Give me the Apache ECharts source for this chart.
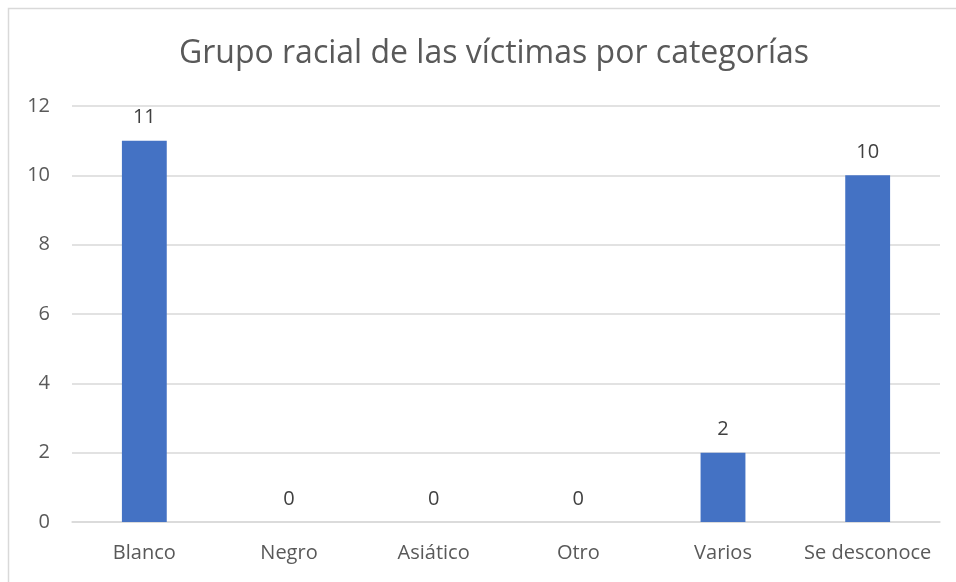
<!DOCTYPE html>
<html><head><meta charset="utf-8">
<script src="https://cdn.jsdelivr.net/npm/echarts@6/dist/echarts.min.js"></script>
<style>html,body{margin:0;padding:0;background:#fff}#c{width:956px;height:582px}</style>
</head><body><div id="c"></div>
<script>
const title = 'Grupo racial de las víctimas por categorías';
const categories = ['Blanco', 'Negro', 'Asiático', 'Otro', 'Varios', 'Se desconoce'];
const values = [11, 0, 0, 0, 2, 10];
const yTicks = [0, 2, 4, 6, 8, 10, 12];

const FONT = '"Open Sans", "Noto Sans", sans-serif';
const chart = echarts.init(document.getElementById('c'), null, {renderer: 'canvas'});
chart.setOption({
  animation: false,
  backgroundColor: '#fff',
  textStyle: {fontFamily: FONT},
  title: {
    text: title, left: 489, top: 33, textAlign: 'center',
    textStyle: {fontSize: 32, fontWeight: 'normal', color: '#595959', fontFamily: FONT}
  },
  graphic: [{
    type: 'rect', shape: {x: 8.5, y: 8.5, width: 1000, height: 1000},
    style: {fill: 'none', stroke: '#d9d9d9', lineWidth: 1.5}, silent: true
  }],
  grid: {left: 72, right: 16, top: 106, bottom: 60, containLabel: false},
  xAxis: {
    type: 'category', data: categories,
    axisLine: {show: true, lineStyle: {color: '#d9d9d9', width: 1.5}},
    axisTick: {show: false},
    axisLabel: {color: '#595959', fontSize: 20, margin: 21, fontFamily: FONT, interval: 0, hideOverlap: false}
  },
  yAxis: {
    type: 'value', min: yTicks[0], max: yTicks[yTicks.length - 1], interval: 2,
    axisLine: {show: false}, axisTick: {show: false},
    splitLine: {lineStyle: {color: '#d9d9d9', width: 1.5}},
    axisLabel: {color: '#595959', fontSize: 20, margin: 22, fontFamily: FONT}
  },
  series: [{
    type: 'bar', data: values, barWidth: '31%',
    itemStyle: {color: '#4472C4'},
    label: {show: true, position: 'top', distance: 13, color: '#404040', fontSize: 20, fontFamily: FONT}
  }]
});
</script></body></html>
